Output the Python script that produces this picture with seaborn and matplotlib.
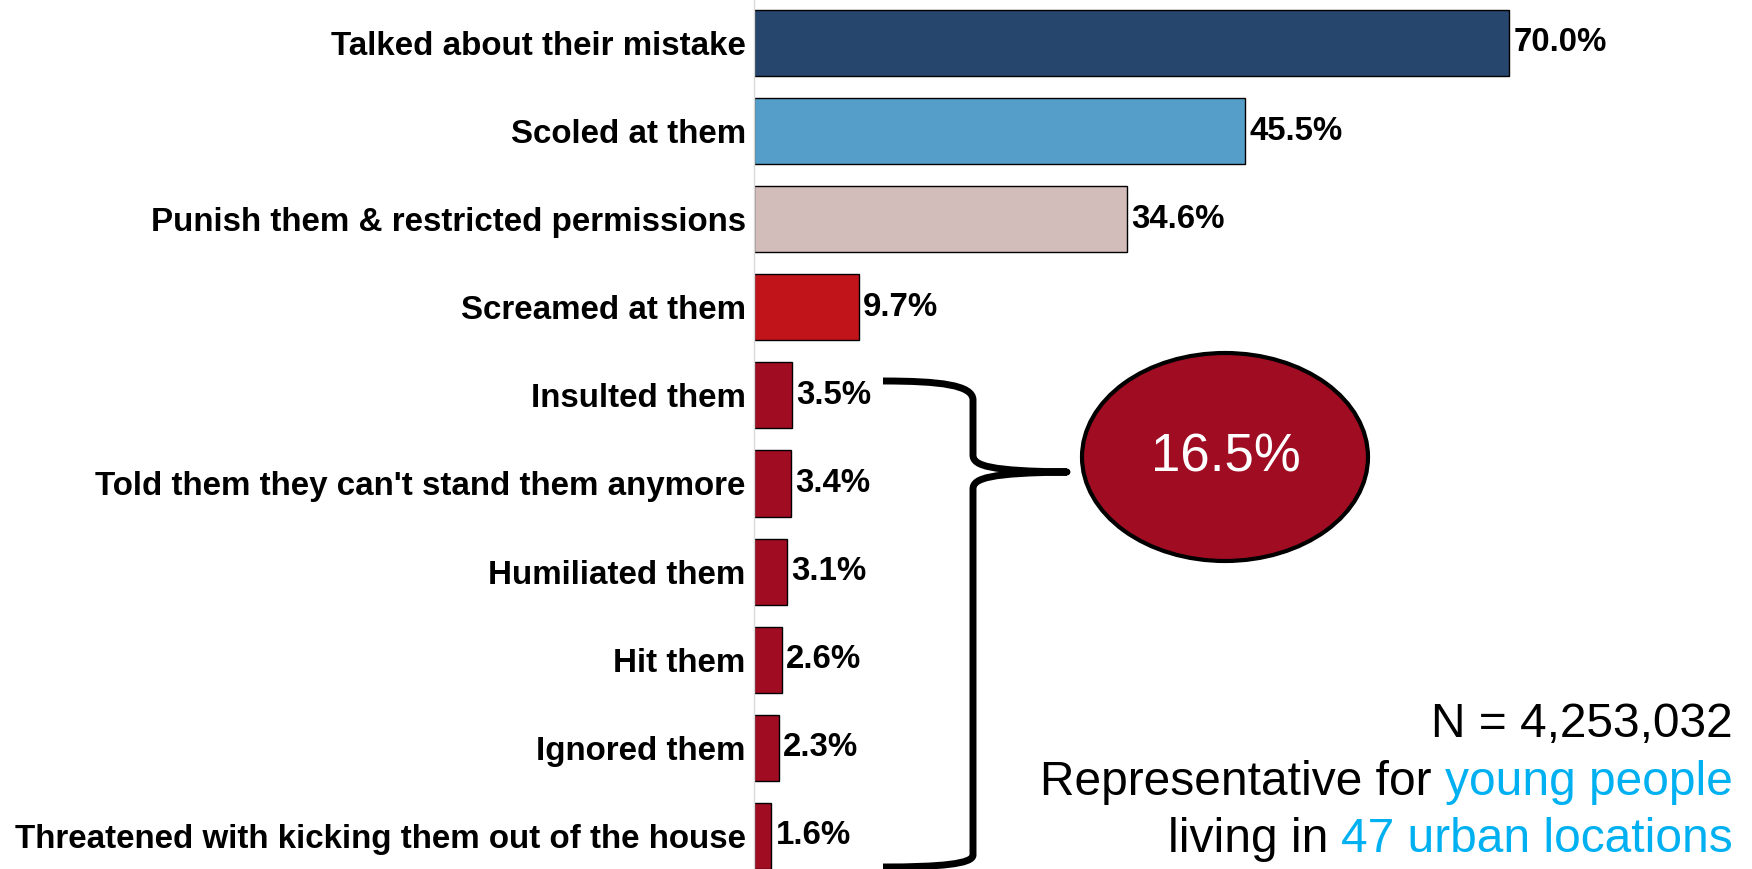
import numpy as np
import pandas as pd
import matplotlib
matplotlib.use('Agg')
import matplotlib.pyplot as plt
import seaborn as sns
from matplotlib.patches import Ellipse, PathPatch
from matplotlib.path import Path

# ------ data -------
categories = ['Talked about their mistake', 'Scoled at them',
              'Punish them & restricted permissions', 'Screamed at them',
              'Insulted them', "Told them they can't stand them anymore",
              'Humiliated them', 'Hit them', 'Ignored them',
              'Threatened with kicking them out of the house']
values = [70.0, 45.5, 34.6, 9.7, 3.5, 3.4, 3.1, 2.6, 2.3, 1.6]
bar_colors = ['#26466D', '#559EC9', '#D3BDBB', '#C0141A', '#A00C22',
              '#A00C22', '#A00C22', '#A00C22', '#A00C22', '#A00C22']
bubble_text = '16.5%'
note_n = 'N = 4,253,032'

df = pd.DataFrame({'cat': categories, 'val': values})

sns.set_style('white')
plt.rcParams['font.family'] = ['Liberation Sans', 'DejaVu Sans']

W, H = 1752, 869
fig = plt.figure(figsize=(W / 100, H / 100), dpi=100)
ax = fig.add_axes([754 / W, 0, 1 - 754 / W, 1])

sns.barplot(data=df, x='val', y='cat', hue='cat', palette=bar_colors,
            legend=False, orient='h', width=0.75, edgecolor='black',
            linewidth=1, saturation=1, ax=ax)

for cont in ax.containers:
    ax.bar_label(cont, fmt='%.1f%%', padding=3, fontsize=23.8,
                 fontweight='bold', color='black')

ax.set_xlim(0, 92.5)
ax.set_ylim(9.376, -0.488)
ax.set_xlabel('')
ax.set_ylabel('')
ax.set_xticks([])
ax.tick_params(axis='y', length=0, pad=6)
for lab in ax.get_yticklabels():
    lab.set_fontsize(23.9)
    lab.set_fontweight('bold')
    lab.set_color('black')
for s in ['top', 'right', 'bottom']:
    ax.spines[s].set_visible(False)
ax.spines['left'].set_color('#D9D9D9')
ax.spines['left'].set_linewidth(1)

# overlay in pixel coords for bubble, brace and notes
ov = fig.add_axes([0, 0, 1, 1], facecolor='none')
ov.set_xlim(0, W)
ov.set_ylim(H, 0)
ov.axis('off')

ov.add_patch(Ellipse((1225, 457), 286, 208, facecolor='#A00C22',
                     edgecolor='black', lw=3))
ov.text(1226, 458, bubble_text, color='white', fontsize=38,
        ha='center', va='center')

verts = [(883, 381), (940, 381), (973, 385), (973, 400),
         (973, 455),
         (973, 466), (990, 471), (1067, 472),
         (990, 473), (973, 478), (973, 489),
         (973, 855),
         (973, 864), (940, 867), (883, 867)]
codes = [Path.MOVETO, Path.CURVE4, Path.CURVE4, Path.CURVE4,
         Path.LINETO,
         Path.CURVE4, Path.CURVE4, Path.CURVE4,
         Path.CURVE4, Path.CURVE4, Path.CURVE4,
         Path.LINETO,
         Path.CURVE4, Path.CURVE4, Path.CURVE4]
ov.add_patch(PathPatch(Path(verts, codes), fill=False, lw=5,
                       edgecolor='black', joinstyle='round', capstyle='butt'))

blue = '#00B0F0'
fs = 34.5
ov.text(1733, 737, note_n, fontsize=fs, ha='right', va='baseline', color='black')
t1 = ov.text(1733, 795, 'young people', fontsize=fs, ha='right',
             va='baseline', color=blue)
ov.annotate('Representative for ', xy=(0, 0), xycoords=t1, fontsize=fs,
            ha='right', va='bottom', color='black')
t2 = ov.text(1733, 852, '47 urban locations', fontsize=fs, ha='right',
             va='baseline', color=blue)
ov.annotate('living in ', xy=(0, 0), xycoords=t2, fontsize=fs,
            ha='right', va='bottom', color='black')

fig.savefig('out.png', dpi=100)
